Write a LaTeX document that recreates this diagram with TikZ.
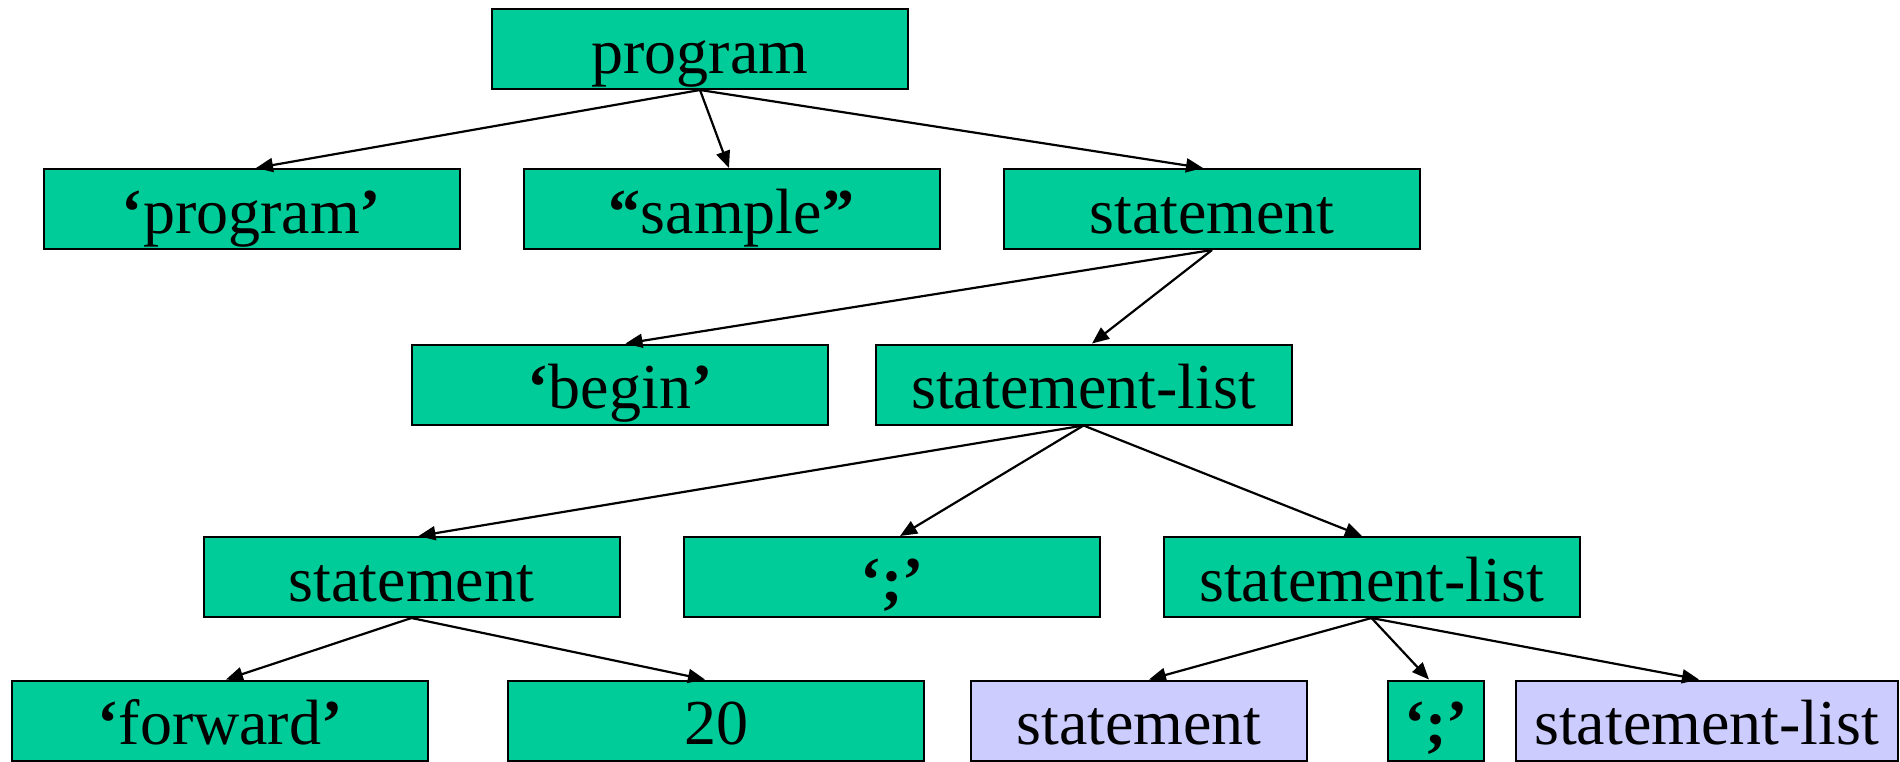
\documentclass[tikz,border=0pt]{standalone}
\usepackage{fontspec}
\setmainfont{Liberation Serif}
\usetikzlibrary{arrows.meta}
\definecolor{boxgreen}{HTML}{00CC99}
\definecolor{boxlav}{HTML}{CCCCFF}
\newcommand{\myoq}{\textbf{‘}}
\newcommand{\mycq}{\textbf{’}}
\newcommand{\myodq}{\textbf{“}}
\newcommand{\mycdq}{\textbf{”}}
\begin{document}
\begin{tikzpicture}[x=0.5pt,y=-0.5pt,
  nb/.style={draw=black, line width=1pt, fill=boxgreen, inner sep=0pt,
    minimum width={#1*0.5pt}, minimum height=40pt,
    text height=32pt, text depth=8pt, font=\fontsize{32}{38}\selectfont},
  nb/.default=416,
  lb/.style={nb=#1, fill=boxlav},
  edge/.style={line width=1.1pt, -{Triangle[length=8.5pt,width=7pt]}}]
\useasboundingbox (0,0) rectangle (1900,761);
\node[nb] (root) at (700,49) {program};
\node[nb] (kprog) at (251.5,209) {\myoq program\mycq};
\node[nb] (name) at (731.5,209) {\myodq sample\mycdq};
\node[nb] (st1) at (1212,209) {statement};
\node[nb] (kbegin) at (620,384.5) {\myoq begin\mycq};
\node[nb] (sl1) at (1083.5,384.5) {statement-list};
\node[nb] (st2) at (411.5,577) {statement};
\node[nb] (semi1) at (892,577) {\textbf{‘;’}};
\node[nb] (sl2) at (1371.5,577) {statement-list};
\node[nb] (kfwd) at (220,720.5) {\myoq forward\mycq};
\node[nb] (num) at (716,720.5) {20};
\node[lb=336] (st3) at (1139,720.5) {statement};
\node[nb=96] (semi2) at (1436,720.5) {\textbf{‘;’}};
\node[lb=382] (sl3) at (1706.5,720.5) {statement-list};
\draw[edge] (root.south) -- ([xshift=2.25pt]kprog.north);
\draw[edge] (root.south) -- ([xshift=-1.25pt]name.north);
\draw[edge] (root.south) -- ([xshift=-4.5pt]st1.north);
\draw[edge] (st1.south) -- ([xshift=2.75pt]kbegin.north);
\draw[edge] (st1.south) -- ([xshift=4.25pt]sl1.north);
\draw[edge] (sl1.south) -- ([xshift=3.5pt]st2.north);
\draw[edge] (sl1.south) -- ([xshift=4pt]semi1.north);
\draw[edge] (sl1.south) -- ([xshift=-4.75pt]sl2.north);
\draw[edge] (st2.south) -- ([xshift=3pt]kfwd.north);
\draw[edge] (st2.south) -- ([xshift=-5.5pt]num.north);
\draw[edge] (sl2.south) -- ([xshift=5pt]st3.north);
\draw[edge] (sl2.south) -- ([xshift=-3.5pt]semi2.north);
\draw[edge] (sl2.south) -- ([xshift=-3.75pt]sl3.north);
\end{tikzpicture}
\end{document}
